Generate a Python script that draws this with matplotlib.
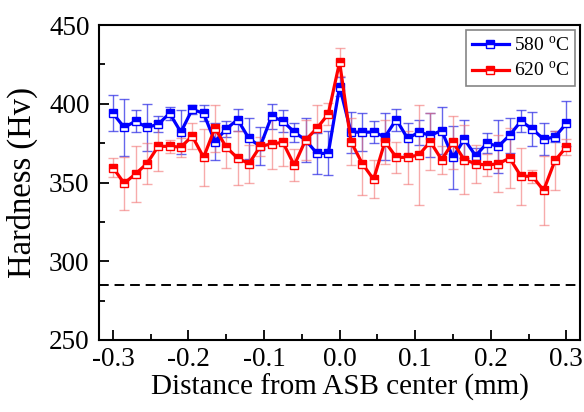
import numpy as np
import matplotlib
matplotlib.use("Agg")
import matplotlib.pyplot as plt

# distance from ASB center (mm), step 0.015
distance = np.round(np.arange(-0.3, 0.3001, 0.015), 3)

hv_580 = [394, 385, 389, 385, 387, 394, 382, 396.5, 394, 376, 384, 390, 378, 373,
          392, 389, 382, 377, 368.5, 368.5, 411, 382, 382, 382, 379, 390, 378, 382,
          380, 383, 366, 377.5, 367, 375, 373, 380, 389, 384, 377.5, 379, 387.5]
err_580 = [11.5, 18, 7, 15, 5, 4, 14, 3, 5, 12, 5, 7, 13, 12,
           8, 7, 6, 14, 13, 14, 6, 13, 12, 7, 15, 7, 10, 8,
           14, 15, 20, 12, 5, 6.5, 17, 11, 7, 11, 10, 3.5, 14]

hv_620 = [359.5, 349.5, 355.5, 362, 373, 373, 372.5, 379.5, 366, 384.5, 372.5, 365.5,
          362, 373, 374.5, 375.5, 361, 377, 384.5, 393.5, 426.5, 376, 362, 352,
          376, 366, 366, 367.5, 376, 364.5, 375.5, 364.5, 362, 361, 362, 365.5,
          354, 354, 345, 364, 372.5]
err_620 = [6, 17, 18, 13, 16, 4, 6, 8, 18, 15, 13, 17,
           12, 6, 16, 15, 10, 13, 15, 7, 9, 15, 20, 12,
           14, 10, 17, 32, 18, 9, 17, 22, 12, 7, 18, 19,
           18, 4, 22, 19, 5]

series = [
    ("580 $^{\\rm o}$C", hv_580, err_580, "#0000ff", (0.2, 0.2, 0.9, 0.75)),
    ("620 $^{\\rm o}$C", hv_620, err_620, "#ff0000", (0.95, 0.45, 0.45, 0.6)),
]

plt.rcParams["font.family"] = ["Liberation Serif", "DejaVu Serif"]
plt.rcParams["mathtext.fontset"] = "custom"
plt.rcParams["mathtext.rm"] = "Liberation Serif"

fig = plt.figure(figsize=(5.84, 4.12), dpi=100)
ax = fig.add_axes([0.170, 0.175, 0.823, 0.764])

for label, y, e, c, ec in series:
    ax.errorbar(distance, y, yerr=e, fmt="none", ecolor=ec, elinewidth=1.0,
                capsize=3.5, capthick=1.0, zorder=2)
    ax.plot(distance, y, "-s", color=c, lw=2.3, ms=6, mec=c, mew=1.0,
            fillstyle="top", markerfacecoloralt="white", label=label, zorder=3)

ax.axhline(285, color="black", ls=(0, (5, 3)), lw=1.4, zorder=1)

ax.set_xlim(-0.318, 0.318)
ax.set_ylim(250, 450)
ax.set_xticks(np.arange(-0.3, 0.31, 0.1))
ax.set_xticklabels([f"{v:.1f}" for v in np.arange(-0.3, 0.31, 0.1)])
ax.set_xticks(np.arange(-0.25, 0.3, 0.1), minor=True)
ax.set_yticks(np.arange(250, 451, 50))
ax.set_yticks(np.arange(275, 450, 50), minor=True)
ax.tick_params(which="both", direction="in", top=False, right=False,
               width=1.3, labelsize=19.5)
ax.tick_params(which="major", length=7)
ax.tick_params(which="minor", length=4)
ax.tick_params(axis="y", pad=7)
ax.tick_params(axis="x", pad=5)
for s in ax.spines.values():
    s.set_linewidth(1.5)

ax.set_xlabel("Distance from ASB center (mm)", fontsize=21, labelpad=1)
ax.set_ylabel("Hardness (Hv)", fontsize=23.5, labelpad=8)

leg = ax.legend(loc="upper right", fontsize=14, frameon=True, fancybox=False,
                edgecolor="#666666", handlelength=1.9, borderpad=0.3,
                labelspacing=0.3, handletextpad=0.25, borderaxespad=0.25)
leg.get_frame().set_linewidth(1.2)

fig.savefig("out.png", dpi=100)
